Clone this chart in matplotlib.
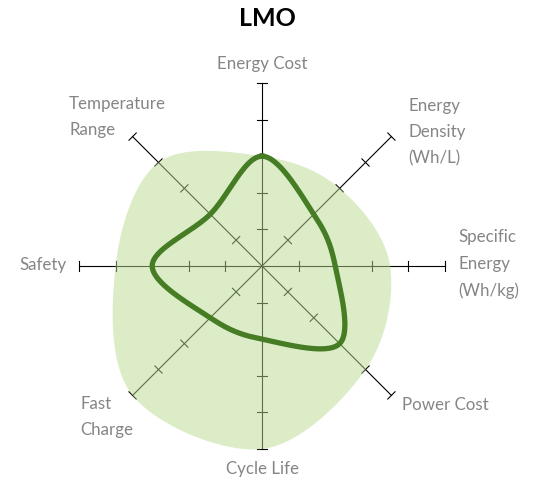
import numpy as np
import matplotlib
matplotlib.use("Agg")
import matplotlib.pyplot as plt

plt.rcParams['font.family'] = ['Lato', 'DejaVu Sans']

# axes, clockwise from the top
axes_names = ["Energy Cost", "Energy\nDensity\n(Wh/L)", "Specific\nEnergy\n(Wh/kg)",
              "Power Cost", "Cycle Life", "Fast\nCharge", "Safety", "Temperature\nRange"]
angles_deg = [90, 45, 0, -45, -90, -135, 180, 135]

# LMO ratings (dark line) and the shaded range behind it
lmo_values = [3, 2, 2, 3, 2, 2, 3, 2]
range_values = [3, 3, 3.5, 4, 5, 5, 4, 4]
levels = [1, 2, 3, 4, 5]

# label placement (x, y in chart units, ha, va)
label_pos = [(0, 5.55, "center", "center"),
             (3.99, 4.62, "left", "top"),
             (5.36, 0.08, "left", "center"),
             (3.83, -3.77, "left", "center"),
             (0, -5.53, "center", "center"),
             (-4.97, -4.10, "left", "center"),
             (-5.33, 0.05, "right", "center"),
             (-5.27, 4.10, "left", "center")]


def catmull_rom_closed(xs, ys, n=60):
    P = np.column_stack([xs, ys])
    N = len(P)
    t = np.linspace(0, 1, n, endpoint=False)[:, None]
    h00 = 2 * t**3 - 3 * t**2 + 1
    h10 = t**3 - 2 * t**2 + t
    h01 = -2 * t**3 + 3 * t**2
    h11 = t**3 - t**2
    out = []
    for i in range(N):
        p0, p1, p2, p3 = P[(i - 1) % N], P[i], P[(i + 1) % N], P[(i + 2) % N]
        m1 = (p2 - p0) / 2
        m2 = (p3 - p1) / 2
        out.append(h00 * p1 + h10 * m1 + h01 * p2 + h11 * m2)
    out = np.vstack(out)
    out = np.vstack([out, out[:1]])
    return out[:, 0], out[:, 1]


ang = np.radians(angles_deg)
ux, uy = np.cos(ang), np.sin(ang)

fig = plt.figure(figsize=(5.33, 4.81), dpi=100)
ax = fig.add_axes([0, 0, 1, 1])
scale = 36.6
ax.set_xlim(-262 / scale, (533 - 262) / scale)
ax.set_ylim(-(481 - 267) / scale, 267 / scale)
ax.set_aspect("equal")
ax.axis("off")

# spokes with ticks
tick_half = 0.14
for i in range(len(axes_names)):
    ax.plot([0, 5 * ux[i]], [0, 5 * uy[i]], color="black", lw=0.8, zorder=1)
    px, py = -uy[i], ux[i]
    for lv in levels:
        cx, cy = lv * ux[i], lv * uy[i]
        ax.plot([cx - tick_half * px, cx + tick_half * px],
                [cy - tick_half * py, cy + tick_half * py],
                color="black", lw=0.8, zorder=1)

# shaded range
rx, ry = catmull_rom_closed(np.array(range_values) * ux, np.array(range_values) * uy)
ax.fill(rx, ry, color="#b8da90", alpha=0.5, lw=0, zorder=2)

# LMO line
lx, ly = catmull_rom_closed(np.array(lmo_values) * ux, np.array(lmo_values) * uy)
ax.plot(lx, ly, color="#457c24", lw=3.8, solid_joinstyle="round", zorder=3)

for name, (x, y, ha, va) in zip(axes_names, label_pos):
    ax.text(x, y, name, ha=ha, va=va, fontsize=12.2, color="#858585", linespacing=1.78)

ax.text((267 - 262) / scale, (267 - 18) / scale, "LMO", ha="center", va="center",
        fontsize=18, fontweight="bold", color="black")

fig.savefig("out.png", dpi=100)
